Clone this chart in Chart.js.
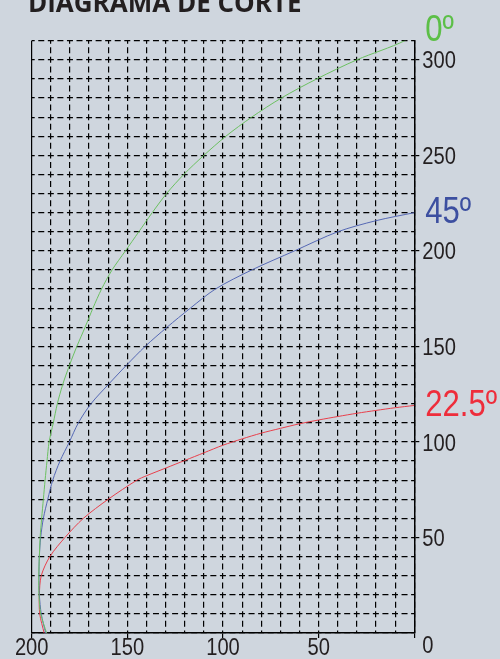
<!DOCTYPE html>
<html>
<head>
<meta charset="utf-8">
<script src="https://cdn.jsdelivr.net/npm/chart.js@4"></script>
<style>
  html, body { margin: 0; background: #cfd6de; }
  canvas { display: block; }
</style>
</head>
<body>
<canvas id="chart" width="500" height="659"></canvas>
<script>
// cut diagram: height (y) against horizontal reach (x), one pair of lists per angle
const heights0 = [0, 10, 20, 30, 40, 50, 60, 70, 80, 90, 100, 110, 120, 130, 140, 150, 160, 170, 180, 190, 200, 210, 220, 230, 240, 250, 260, 270, 280, 290, 300, 310, 315]
const reach0 = [192.2, 195.3, 196.2, 196.3, 196, 195.6, 194.8, 193.9, 193, 192, 190.9, 188.7, 186.6, 183.8, 180.3, 176.4, 172.1, 168, 163.5, 158, 151, 144, 137, 129.5, 120.5, 110, 98.5, 85, 69.5, 51, 30, 5, 0]

const heights45 = [0, 10, 20, 30, 40, 50, 60, 70, 80, 90, 100, 110, 120, 130, 140, 150, 160, 170, 180, 190, 200, 210, 215.8, 220]
const reach45 = [192.7, 195, 196, 196.2, 196, 195.3, 193.9, 191.6, 189, 185.2, 180.3, 175.6, 169, 160, 150.6, 140.7, 129.3, 117.1, 104, 85, 62.6, 40, 20, 0]

const heights22 = [0, 10, 20, 30, 40, 50, 60, 70, 80, 82.3, 86.3, 90.3, 94.3, 98.3, 101.6, 104.6, 107.1, 109.5, 111.5, 113.3, 115, 116.5, 117.9, 119.1]
const reach22 = [193.5, 195.8, 196, 195, 190.5, 182.6, 173, 160, 145, 140, 130, 120, 110, 100, 90, 80, 70, 60, 50, 40, 30, 20, 10, 0]

const angleLabels = ['0º', '45º', '22.5º']
const xTickLabels = [200, 150, 100, 50]
const yTickLabels = [0, 50, 100, 150, 200, 250, 300]

const ink = '#231f20'
const sans = "'Liberation Sans', Arimo, sans-serif"
// the original lettering is a narrow grotesque, so text is squeezed to this share of its width
const squeeze = 0.84
// two dashes per grid cell, centred on the crossings
const gridDash = [6, 3.56]
const gridDashOffset = 3

const toPoints = (xs, ys) => xs.map((x, i) => ({ x, y: ys[i] }))

const series = [
  { text: '#5cbf47', line: '#6cc061', points: toPoints(reach0, heights0) },
  { text: '#3c4fa0', line: '#5568b4', points: toPoints(reach45, heights45) },
  { text: '#ee2d3b', line: '#e8404c', points: toPoints(reach22, heights22) },
]

const drawNarrow = (ctx, text, x, y) => {
  ctx.fillText(text, x, y, ctx.measureText(text).width * squeeze)
}

// axis numbers, placed by the scales
const tickLabels = {
  id: 'tickLabels',
  afterDraw(chart) {
    const { ctx } = chart
    const { x, y } = chart.scales
    ctx.save()
    ctx.font = `24px ${sans}`
    ctx.fillStyle = ink
    ctx.textBaseline = 'middle'
    ctx.textAlign = 'center'
    xTickLabels.forEach((v) => drawNarrow(ctx, String(v), x.getPixelForValue(v), x.top + 15.5))
    ctx.textAlign = 'left'
    yTickLabels.forEach((v) => {
      // the zero drops below the corner, level with the x numbers
      const py = v === 0 ? x.top + 13.5 : y.getPixelForValue(v) + 2
      drawNarrow(ctx, String(v), y.left + 8, py)
    })
    ctx.restore()
  }
}

// angle name written just right of the axis, level with the end of its curve
const endLabels = {
  id: 'endLabels',
  afterDraw(chart) {
    const { ctx } = chart
    const yScale = chart.scales.y
    ctx.save()
    ctx.font = `37px ${sans}`
    ctx.textBaseline = 'middle'
    ctx.textAlign = 'left'
    chart.data.datasets.forEach((ds) => {
      const last = ds.data[ds.data.length - 1]
      ctx.fillStyle = ds.labelColor
      drawNarrow(ctx, ds.label, yScale.left + 11, yScale.getPixelForValue(last.y))
    })
    ctx.restore()
  }
}

const everyFifty = (c) => c.tick && c.tick.value % 50 === 0

new Chart(document.getElementById('chart'), {
  type: 'scatter',
  data: {
    datasets: series.map((s, i) => ({
      label: angleLabels[i],
      data: s.points,
      showLine: true,
      borderColor: s.line,
      borderWidth: 1,
      pointRadius: 0,
      tension: 0.3,
      labelColor: s.text,
    }))
  },
  options: {
    responsive: false,
    animation: false,
    layout: { padding: { left: 28, top: 0, right: 0, bottom: 0 } },
    plugins: {
      legend: { display: false },
      tooltip: { enabled: false },
      title: {
        display: true,
        text: 'DIAGRAMA DE CORTE',
        align: 'start',
        color: ink,
        font: { family: "'Open Sans', sans-serif", size: 26, weight: 'bold', lineHeight: 1.2 },
        padding: { top: -11.2, bottom: 20.7 },
      },
    },
    scales: {
      x: {
        type: 'linear',
        min: 0,
        max: 200,
        reverse: true,
        afterFit: (scale) => {
          scale.height = 26
          scale.paddingLeft = 31.7
        },
        ticks: { stepSize: 10, autoSkip: false, display: false },
        grid: {
          color: '#000',
          lineWidth: 1.2,
          tickLength: 5,
          tickWidth: 1.2,
          tickColor: (c) => (everyFifty(c) ? '#000' : 'transparent'),
        },
        // the left edge (200) is a solid line, the rest dashed
        border: {
          color: '#000',
          width: 1.5,
          dash: (c) => (c.tick && c.tick.value === 200 ? [] : gridDash),
          dashOffset: gridDashOffset,
        },
      },
      y: {
        position: 'right',
        min: 0,
        max: 310,
        afterFit: (scale) => { scale.width = 85.7 },
        ticks: { stepSize: 10, autoSkip: false, display: false },
        grid: {
          color: '#000',
          lineWidth: 1.2,
          tickLength: 5,
          tickWidth: 1.2,
          tickColor: (c) => (everyFifty(c) && c.tick.value > 0 ? '#000' : 'transparent'),
        },
        border: { color: '#000', width: 1.5, dash: gridDash, dashOffset: gridDashOffset },
      },
    },
  },
  plugins: [tickLabels, endLabels],
})
</script>
</body>
</html>
